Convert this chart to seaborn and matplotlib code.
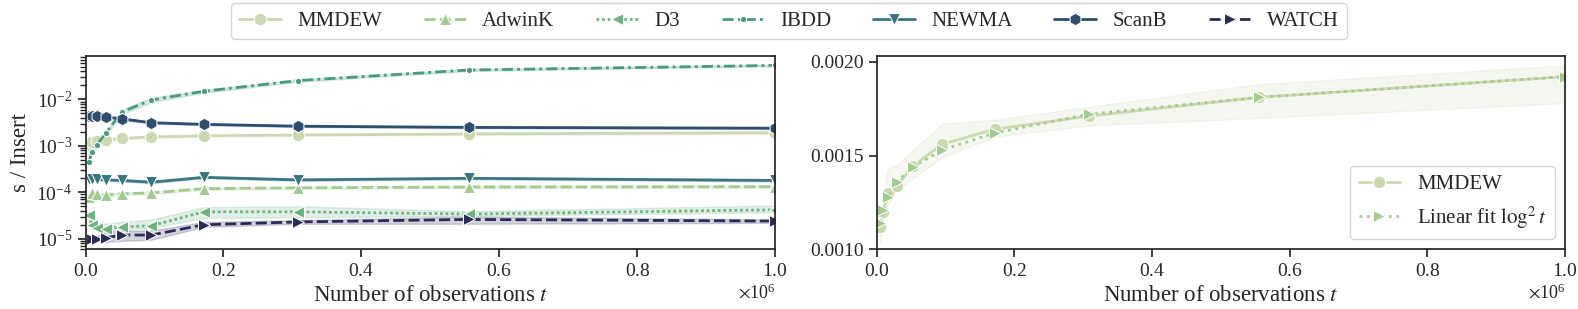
import numpy as np
import pandas as pd
import matplotlib
matplotlib.use("Agg")
import matplotlib.pyplot as plt
import matplotlib.ticker as mticker
import seaborn as sns

sns.set_theme(style="ticks")
plt.rcParams["font.family"] = ["Liberation Serif", "DejaVu Serif"]
plt.rcParams["mathtext.fontset"] = "stix"

# observation counts
obs = [5000, 9100, 16300, 29400, 52900, 95300, 171500, 308600, 555600, 1000000]

# seconds per insert (middle, lower and upper edge of the band)
mmdew = [0.00112, 0.00120, 0.00130, 0.00134, 0.001445, 0.00156, 0.00164, 0.00171, 0.00181, 0.00192]
mmdew_lo = [0.00103, 0.00116, 0.00124, 0.00131, 0.00138, 0.00149, 0.00160, 0.00166, 0.00170, 0.00178]
mmdew_hi = [0.00119, 0.00128, 0.00143, 0.00145, 0.00153, 0.00167, 0.00169, 0.00176, 0.00188, 0.00198]

adwink = [8.0e-5, 9.5e-5, 9.1e-5, 8.7e-5, 9.3e-5, 9.7e-5, 1.2e-4, 1.25e-4, 1.3e-4, 1.32e-4]
adwink_lo = [7.2e-5, 8.8e-5, 8.5e-5, 8.2e-5, 8.8e-5, 9.2e-5, 1.13e-4, 1.18e-4, 1.23e-4, 1.25e-4]
adwink_hi = [8.8e-5, 1.02e-4, 9.8e-5, 9.3e-5, 9.9e-5, 1.03e-4, 1.27e-4, 1.32e-4, 1.37e-4, 1.4e-4]

d3 = [3.2e-5, 2.0e-5, 1.7e-5, 1.65e-5, 1.8e-5, 1.9e-5, 3.8e-5, 3.8e-5, 3.4e-5, 4.2e-5]
d3_lo = [2.6e-5, 1.7e-5, 1.5e-5, 1.5e-5, 1.6e-5, 1.7e-5, 2.8e-5, 2.9e-5, 3.1e-5, 3.7e-5]
d3_hi = [3.8e-5, 2.4e-5, 2.1e-5, 2.1e-5, 2.3e-5, 2.6e-5, 4.8e-5, 5.0e-5, 3.9e-5, 5.2e-5]

ibdd = [4.5e-4, 7.5e-4, 1.05e-3, 1.9e-3, 5.4e-3, 9.7e-3, 1.5e-2, 2.55e-2, 4.3e-2, 5.4e-2]
ibdd_lo = [4.0e-4, 6.6e-4, 9.2e-4, 1.7e-3, 4.8e-3, 8.6e-3, 1.4e-2, 2.4e-2, 4.1e-2, 5.2e-2]
ibdd_hi = [5.0e-4, 8.4e-4, 1.18e-3, 2.1e-3, 6.0e-3, 1.08e-2, 1.6e-2, 2.7e-2, 4.5e-2, 5.6e-2]

newma = [1.95e-4, 1.95e-4, 1.9e-4, 1.85e-4, 1.8e-4, 1.65e-4, 2.1e-4, 1.85e-4, 2.0e-4, 1.8e-4]
newma_lo = [1.85e-4, 1.85e-4, 1.8e-4, 1.75e-4, 1.7e-4, 1.55e-4, 2.0e-4, 1.75e-4, 1.9e-4, 1.7e-4]
newma_hi = [2.05e-4, 2.05e-4, 2.0e-4, 1.95e-4, 1.9e-4, 1.75e-4, 2.2e-4, 1.95e-4, 2.1e-4, 1.9e-4]

scanb = [4.3e-3, 4.4e-3, 4.4e-3, 4.2e-3, 3.8e-3, 3.15e-3, 2.9e-3, 2.65e-3, 2.5e-3, 2.4e-3]
scanb_lo = [4.1e-3, 4.2e-3, 4.2e-3, 4.0e-3, 3.6e-3, 3.0e-3, 2.8e-3, 2.55e-3, 2.4e-3, 2.3e-3]
scanb_hi = [4.5e-3, 4.6e-3, 4.6e-3, 4.4e-3, 4.0e-3, 3.3e-3, 3.0e-3, 2.75e-3, 2.6e-3, 2.5e-3]

watch = [1.0e-5, 1.0e-5, 1.0e-5, 1.05e-5, 1.2e-5, 1.2e-5, 2.0e-5, 2.3e-5, 2.6e-5, 2.4e-5]
watch_lo = [9.5e-6, 9.5e-6, 9.0e-6, 8.5e-6, 9.0e-6, 9.5e-6, 1.8e-5, 2.1e-5, 2.1e-5, 2.2e-5]
watch_hi = [1.1e-5, 1.1e-5, 1.15e-5, 1.4e-5, 1.5e-5, 1.5e-5, 2.3e-5, 2.5e-5, 3.0e-5, 2.6e-5]

# linear fit in log^2 t for MMDEW
fit = [0.00114, 0.00121, 0.00128, 0.00136, 0.00144, 0.00153, 0.00162, 0.00172, 0.00181, 0.00192]

names = ["MMDEW", "AdwinK", "D3", "IBDD", "NEWMA", "ScanB", "WATCH"]
colors = {"MMDEW": "#cbd8b2", "AdwinK": "#a2ca91", "D3": "#70b383", "IBDD": "#4a9a7e",
          "NEWMA": "#3a7680", "ScanB": "#2e4e6f", "WATCH": "#2a2c57"}
markers = {"MMDEW": "o", "AdwinK": "^", "D3": "<", "IBDD": ".", "NEWMA": "v",
           "ScanB": "h", "WATCH": ">"}
dashes = {"MMDEW": "", "AdwinK": (4, 1.5), "D3": (1, 1), "IBDD": (4, 1.5, 1, 1.5),
          "NEWMA": "", "ScanB": "", "WATCH": (4, 1.5)}

series = {
    "MMDEW": (mmdew, mmdew_lo, mmdew_hi),
    "AdwinK": (adwink, adwink_lo, adwink_hi),
    "D3": (d3, d3_lo, d3_hi),
    "IBDD": (ibdd, ibdd_lo, ibdd_hi),
    "NEWMA": (newma, newma_lo, newma_hi),
    "ScanB": (scanb, scanb_lo, scanb_hi),
    "WATCH": (watch, watch_lo, watch_hi),
}

rows = []
for name in names:
    mid, lo, hi = series[name]
    for i, t in enumerate(obs):
        for v in (lo[i], mid[i], hi[i]):
            rows.append({"t": t, "s / Insert": v, "algorithm": name})
df = pd.DataFrame(rows)

fig = plt.figure(figsize=(15.78, 3.09), dpi=100)
ax1 = fig.add_axes([0.0542, 0.193, 0.4371, 0.6257])
ax2 = fig.add_axes([0.5556, 0.193, 0.4362, 0.6257])

sns.lineplot(data=df, x="t", y="s / Insert", hue="algorithm", style="algorithm",
             hue_order=names, style_order=names, palette=colors, markers=markers,
             dashes=dashes, estimator="median", errorbar=("pi", 100),
             markersize=9, linewidth=2, markeredgecolor="white", ax=ax1)
ax1.set_yscale("log")
ax1.set_ylim(5.9e-6, 8.6e-2)
ax1.set_xlim(0, 1e6)
ax1.set_xlabel("Number of observations $t$", fontsize=16.5)
ax1.set_ylabel("s / Insert", fontsize=16.5)
handles, labels = ax1.get_legend_handles_labels()
ax1.get_legend().remove()
fig.legend(handles, labels, ncol=7, loc="upper center", bbox_to_anchor=(0.5, 1.0),
           fontsize=15, columnspacing=2.0, borderaxespad=0.15)

df_r = df[df["algorithm"] == "MMDEW"]
sns.lineplot(data=df_r, x="t", y="s / Insert", color=colors["MMDEW"], marker="o",
             estimator="median", errorbar=("pi", 100), markersize=9, linewidth=2,
             markeredgecolor="white", label="MMDEW", ax=ax2)
sns.lineplot(x=obs, y=fit, color=colors["AdwinK"], marker=">", linestyle=":",
             markersize=9, linewidth=2, markeredgecolor="white",
             label="Linear fit $\\log^2 t$", ax=ax2)
ax2.set_xlim(0, 1e6)
ax2.set_ylim(0.0010, 0.00203)
ax2.set_yticks([0.0010, 0.0015, 0.0020])
ax2.yaxis.set_major_formatter(mticker.FormatStrFormatter("%.4f"))
ax2.set_xlabel("Number of observations $t$", fontsize=16.5)
ax2.set_ylabel("")
ax2.legend(loc="lower right", fontsize=15)

for ax in (ax1, ax2):
    ax.ticklabel_format(axis="x", style="sci", scilimits=(0, 0), useMathText=True)
    ax.tick_params(labelsize=14)
    ax.xaxis.get_offset_text().set_fontsize(13)

fig.savefig("out.png", dpi=100)
